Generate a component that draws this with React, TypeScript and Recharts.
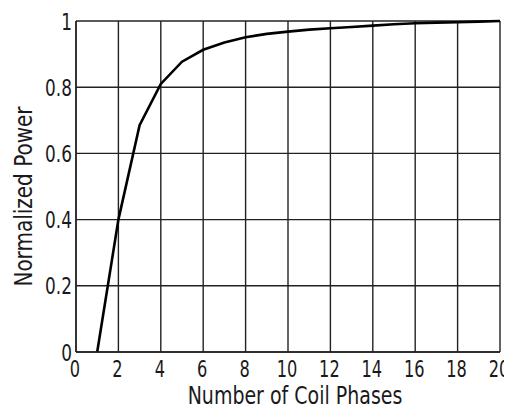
import { CartesianGrid, Label, Line, LineChart, XAxis, YAxis } from "recharts";

const phases = [1, 2, 3, 4, 5, 6, 7, 8, 9, 10, 11, 12, 13, 14, 15, 16, 17, 18, 19, 20];
const power = [0, 0.4, 0.685, 0.81, 0.877, 0.913, 0.935, 0.951, 0.961, 0.968, 0.974, 0.978, 0.982, 0.986, 0.99, 0.993, 0.995, 0.996, 0.998, 1.0];
const xTicks = [0, 2, 4, 6, 8, 10, 12, 14, 16, 18, 20];
const yTicks = [0, 0.2, 0.4, 0.6, 0.8, 1];

const data = phases.map((n, i) => ({ n, p: power[i] }));

const font = "'DejaVu Sans', sans-serif";
const ink = "#1a1a1a";
const grid = "#222";

// narrow, tall glyphs: squeeze DejaVu horizontally
const Narrow = ({ x, y, sx, size, anchor, rotate, children }: any) => (
  <text
    transform={`translate(${x} ${y})${rotate ? ` rotate(${rotate})` : ""} scale(${sx} 1)`}
    textAnchor={anchor}
    fill={ink}
    fontSize={size}
    fontFamily={font}
  >
    {children}
  </text>
);

const renderXTick = (props: any) => (
  <Narrow key={`x-${props.payload.value}`} x={props.x - 1} y={props.y + 17} sx={0.72} size={22.5} anchor="middle">
    {props.payload.value}
  </Narrow>
);

const renderYTick = (props: any) => (
  <Narrow key={`y-${props.payload.value}`} x={props.x + 4} y={props.y + 8.5} sx={0.72} size={23.5} anchor="end">
    {String(props.payload.value)}
  </Narrow>
);

export default function App() {
  return (
    <>
      {/* chart fills the window; keep scrollbars from eating the right edge */}
      <style>{"html,body{overflow:hidden}"}</style>
      <LineChart width={504} height={402} data={data} margin={{ top: 13, right: 12, bottom: 0, left: 0 }}>
        <CartesianGrid stroke={grid} strokeWidth={1.4} horizontalValues={yTicks} verticalValues={xTicks} />
        <XAxis
          dataKey="n"
          type="number"
          domain={[0, 20]}
          ticks={xTicks}
          height={58}
          axisLine={{ stroke: grid, strokeWidth: 1.4 }}
          tickLine={false}
          tick={renderXTick}
          interval={0}
        >
          <Label
            content={({ viewBox }: any) => (
              <Narrow x={viewBox.x + viewBox.width / 2 + 7} y={viewBox.y + viewBox.height - 6} sx={0.76} size={25} anchor="middle">
                Number of Coil Phases
              </Narrow>
            )}
          />
        </XAxis>
        <YAxis
          type="number"
          domain={[0, 1]}
          ticks={yTicks}
          width={68}
          axisLine={{ stroke: grid, strokeWidth: 1.4 }}
          tickLine={false}
          tick={renderYTick}
          interval={0}
        >
          <Label
            content={({ viewBox }: any) => (
              <Narrow x={24} y={viewBox.y + viewBox.height / 2 + 10} sx={0.8} size={25} anchor="middle" rotate={-90}>
                Normalized Power
              </Narrow>
            )}
          />
        </YAxis>
        <Line
          type="linear"
          dataKey="p"
          stroke="#000"
          strokeWidth={2.6}
          dot={false}
          isAnimationActive={false}
        />
      </LineChart>
    </>
  );
}
